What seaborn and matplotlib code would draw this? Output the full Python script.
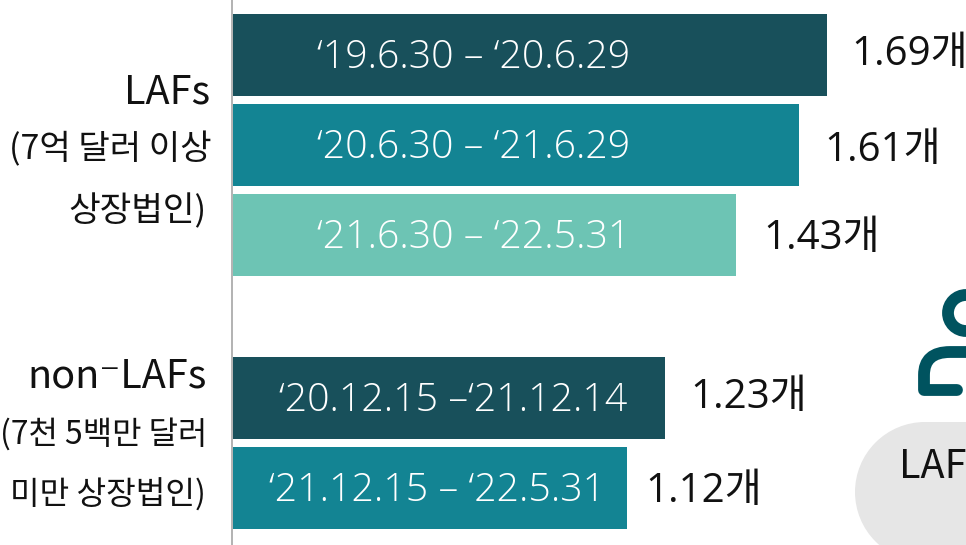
import matplotlib
matplotlib.use('Agg')
import matplotlib.pyplot as plt
from matplotlib.lines import Line2D
from matplotlib.patches import Ellipse, Rectangle, PathPatch
from matplotlib.path import Path
import pandas as pd
import seaborn as sns

laf_periods = ['‘19.6.30 – ‘20.6.29', '‘20.6.30 – ‘21.6.29', '‘21.6.30 – ‘22.5.31']
laf_values = [1.69, 1.61, 1.43]
laf_colors = ['#18505b', '#138493', '#6dc4b4']

non_periods = ['‘20.12.15 –‘21.12.14', '‘21.12.15 – ‘22.5.31']
non_values = [1.23, 1.12]
non_colors = ['#18505b', '#138493']

laf_label = ['LAFs', '(7억 달러 이상', '상장법인)']
non_label = ['non⁻LAFs', '(7천 5백만 달러', '미만 상장법인)']
unit = '개'

W, H = 966, 545
sns.set_theme(style='white')
LATIN = ['Open Sans', 'Noto Sans CJK KR', 'DejaVu Sans']
plt.rcParams['font.family'] = ['Noto Sans CJK KR', 'DejaVu Sans']

fig = plt.figure(figsize=(W / 100, H / 100), dpi=100)


def px_axes(left, top, right, bottom):
    return fig.add_axes([left / W, 1 - bottom / H, (right - left) / W, (bottom - top) / H])


def draw_group(ax, periods, values, colors, text_x, gaps, lift):
    df = pd.DataFrame({'period': periods, 'value': values})
    sns.barplot(data=df, y='period', x='value', hue='period', palette=colors, legend=False,
                width=0.911, saturation=1, linewidth=0, ax=ax)
    ax.set_xlim(0, 2.1)
    ax.axis('off')
    for i, (p, v) in enumerate(zip(periods, values)):
        ax.annotate(p, (0, i), xytext=(text_x[i], 2), textcoords='offset pixels', color='white',
                    fontsize=28.3, family=LATIN, fontweight='light', ha='left', va='center_baseline')
        ax.annotate(f'{v:.2f}{unit}', (v, i), xytext=(gaps[i], lift[i]), textcoords='offset pixels',
                    color='#111111', fontsize=29, family=LATIN, ha='left', va='center_baseline')


# 351.5 px per unit on the x axis
ax1 = px_axes(233, 10, 233 + 2.1 * 351.5, 280)
draw_group(ax1, laf_periods, laf_values, laf_colors, [84, 84, 84], [24, 25, 28], [5, -1, 1])
ax2 = px_axes(233, 353, 233 + 2.1 * 351.5, 533)
draw_group(ax2, non_periods, non_values, non_colors, [46, 36], [25, 19], [5, 1])

fig.add_artist(Line2D([232 / W, 232 / W], [0, 1], color='#a6a6a6', lw=1.2))

for lines, ys, rights, sizes in [(laf_label, [88, 146, 208], [210, 211.5, 207], [28.5, 24.6, 24.8]),
                                 (non_label, [372, 431, 492], [207, 207.5, 206], [28.5, 23, 23.2])]:
    for t, y, r, s in zip(lines, ys, rights, sizes):
        fig.text(r / W, 1 - y / H, t, ha='right', va='center_baseline', color='#111111', fontsize=s)

# overlay in pixel coordinates for the clipped person icon and pill
ov = fig.add_axes([0, 0, 1, 1])
ov.set_xlim(0, W)
ov.set_ylim(H, 0)
ov.axis('off')
ov.patch.set_alpha(0)
ov.add_patch(Ellipse((925, 492), 140, 140, fc='#e6e6e6', ec='none'))
ov.add_patch(Rectangle((925, 422), 60, 140, fc='#e6e6e6', ec='none'))
ov.add_patch(Ellipse((966, 313), 36, 36, fc='none', ec='#00535f', lw=8.5))
body = Path([(957, 390), (924, 390), (924, 375), (924, 352), (950, 352), (980, 352)],
            [Path.MOVETO, Path.LINETO, Path.LINETO, Path.CURVE3, Path.CURVE3, Path.LINETO])
ov.add_patch(PathPatch(body, fc='none', ec='#00535f', lw=8.5, capstyle='round', joinstyle='round'))
ov.text(899, 477, 'LAFs', fontsize=28.5, color='#111111', ha='left', va='baseline')

fig.savefig('out.png', dpi=100)
